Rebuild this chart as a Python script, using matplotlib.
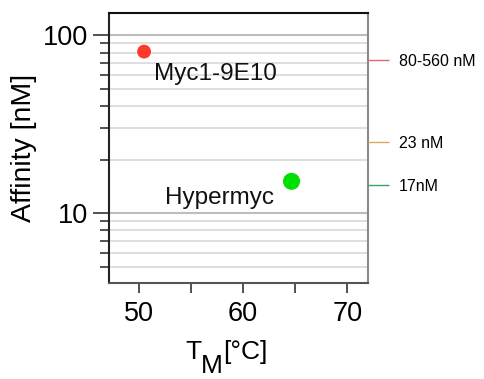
import matplotlib
matplotlib.use("Agg")
import matplotlib.pyplot as plt
from matplotlib.ticker import FixedLocator, NullFormatter

plt.rcParams['font.family'] = ['Liberation Sans', 'DejaVu Sans']

# data
names = ['Myc1-9E10', 'Hypermyc']
tm = [50.5, 64.65]
affinity = [81.0, 15.1]
point_colors = ['#ff3a2a', '#00e000']
point_sizes = [100, 150]
label_pos = [(51.45, 61.0), (52.5, 12.1)]

ref_labels = ['80-560 nM', '23 nM', '17nM']
ref_values = [72.4, 25.2, 14.4]
ref_colors = ['#e06a66', '#d9ac5a', '#3aa35e']

minor_y = [5, 6, 7, 8, 9, 20, 30, 40, 50, 60, 70, 80, 90]
major_y = [10, 100]

fig = plt.figure(figsize=(4.85, 3.79), dpi=100)
ax = fig.add_axes([0.224, 0.254, 0.535, 0.7124])

ax.set_yscale('log')
ax.set_xlim(47.1, 72.0)
ax.set_ylim(4.06, 134)

for v in minor_y:
    ax.axhline(v, color='#dcdcdc', lw=1.3, zorder=0)
for v in major_y:
    ax.axhline(v, color='#bdbdbd', lw=1.5, zorder=0)

ax.scatter(tm, affinity, s=point_sizes, c=point_colors, zorder=3, linewidths=0)
for n, (lx, ly) in zip(names, label_pos):
    ax.text(lx, ly, n, fontsize=17.5, ha='left', va='center', color='#111111')

ax.yaxis.set_major_locator(FixedLocator(major_y))
ax.yaxis.set_minor_locator(FixedLocator(minor_y))
ax.yaxis.set_minor_formatter(NullFormatter())
ax.set_yticklabels(['10', '100'])
ax.xaxis.set_major_locator(FixedLocator([50, 60, 70]))
ax.xaxis.set_minor_locator(FixedLocator([55, 65]))

ax.tick_params(axis='y', which='major', length=11.3, width=1.2, pad=3.5,
               labelsize=19.5, color='#333333')
ax.tick_params(axis='y', which='minor', length=6.3, width=1.2, color='#333333')
ax.tick_params(axis='x', which='both', length=7.5, width=1.2, pad=6,
               labelsize=19.5, color='#333333')

ax.spines['left'].set_color('#222222')
ax.spines['top'].set_color('#111111')
ax.spines['right'].set_color('#8a8a8a')
ax.spines['bottom'].set_color('#555555')
for s in ax.spines.values():
    s.set_linewidth(1.5)

ax.set_ylabel('Affinity [nM]', fontsize=20.5, labelpad=4)

# x label: T with a full size, lowered M, then [°C]
t_txt = ax.text(0.294, -0.284, 'T', transform=ax.transAxes, fontsize=19,
                ha='left', va='baseline')
m_txt = ax.annotate('M', xy=(1, 0), xycoords=t_txt, xytext=(0, -10),
                    textcoords='offset points', fontsize=19, ha='left', va='bottom')
ax.annotate('[°C]', xy=(1, 0), xycoords=m_txt, xytext=(0, 10),
            textcoords='offset points', fontsize=19, ha='left', va='bottom')

ax2 = ax.twinx()
ax2.set_yscale('log')
ax2.set_ylim(ax.get_ylim())
ax2.yaxis.set_major_locator(FixedLocator(ref_values))
ax2.yaxis.set_minor_locator(FixedLocator([]))
ax2.set_yticklabels(ref_labels)
ax2.tick_params(axis='y', length=15, width=1.0, pad=7, labelsize=11.5)
for s in ax2.spines.values():
    s.set_visible(False)

fig.canvas.draw()
for t, c in zip(ax2.yaxis.get_major_ticks(), ref_colors):
    t.tick2line.set_color(c)
    t.tick2line.set_markeredgecolor(c)

fig.savefig('out.png', dpi=100)
